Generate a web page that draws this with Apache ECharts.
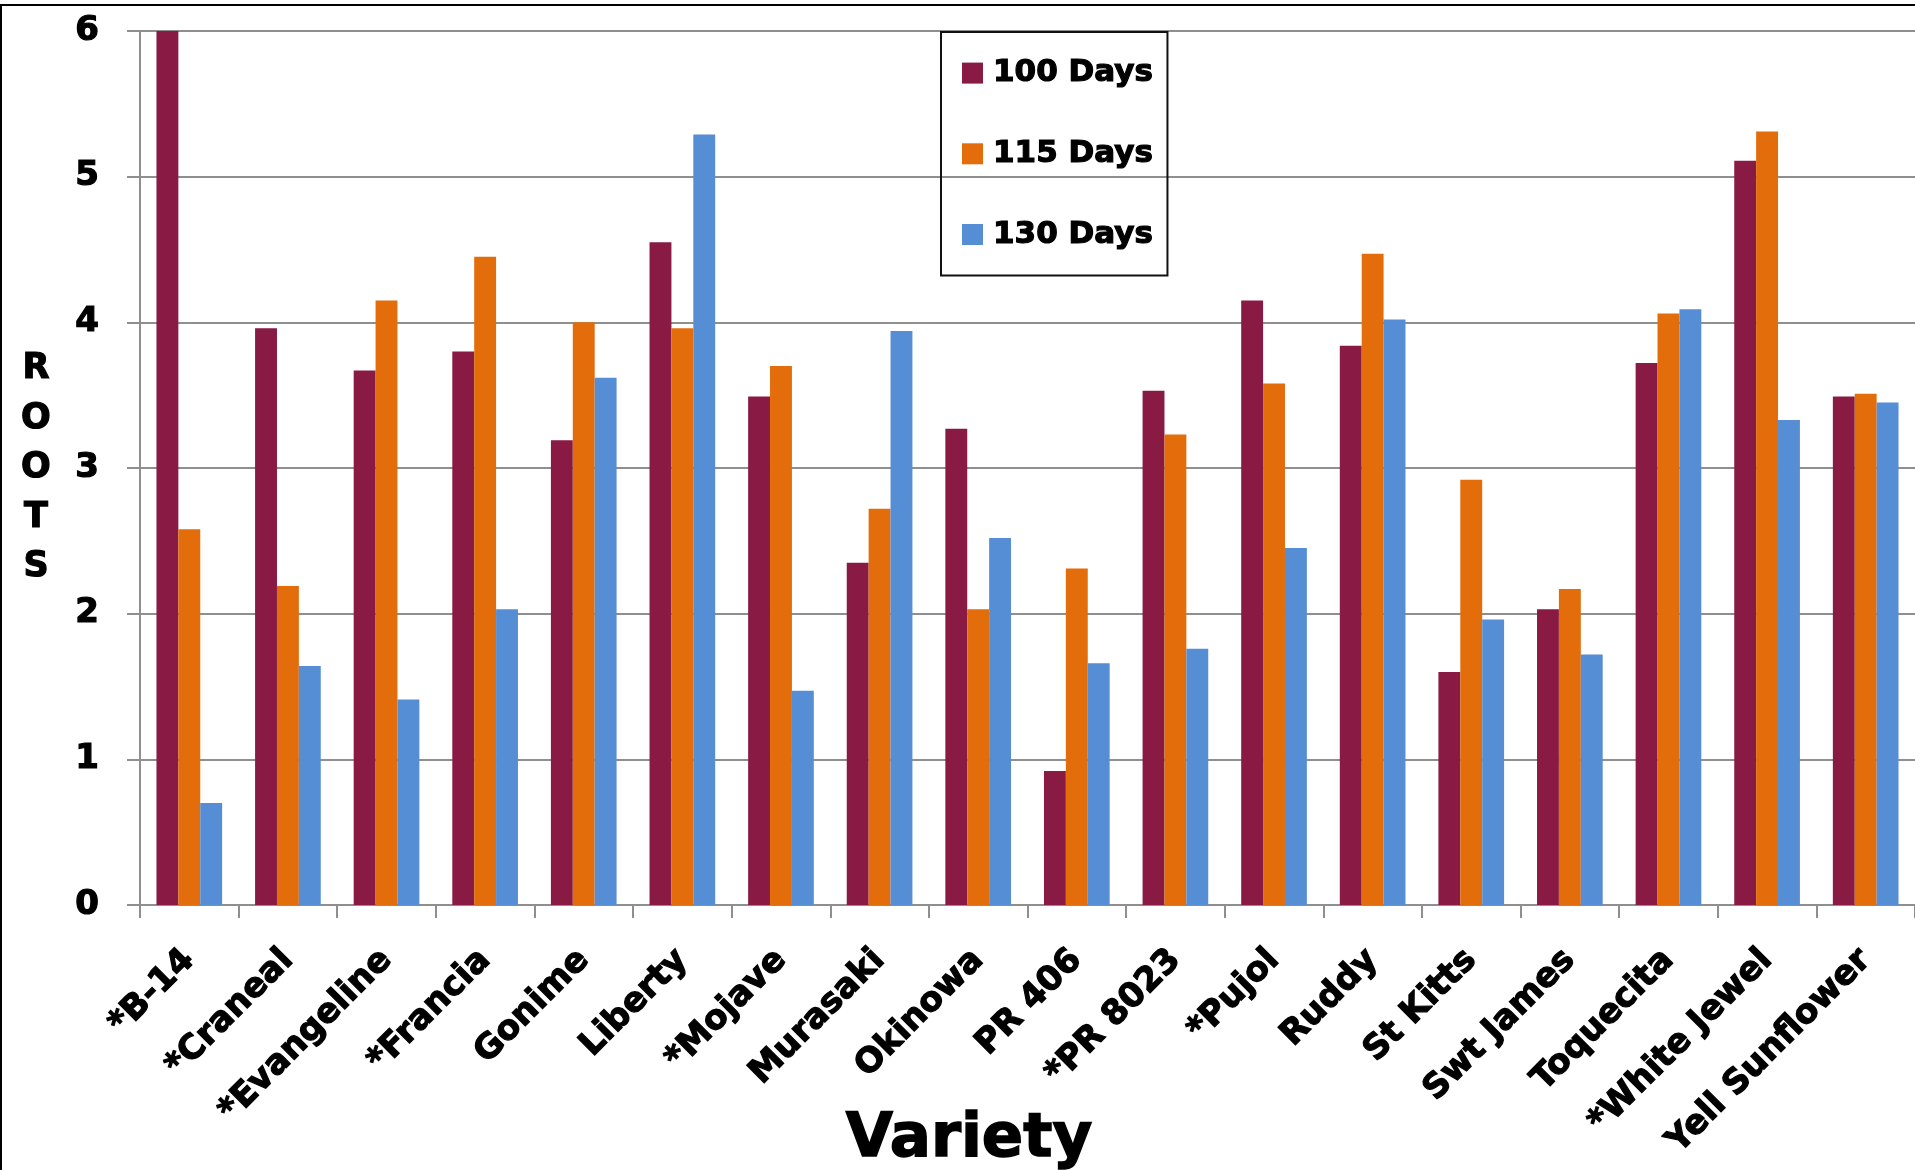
<!DOCTYPE html>
<html>
<head>
<meta charset="utf-8">
<script src="https://cdn.jsdelivr.net/npm/echarts@6/dist/echarts.min.js"></script>
<style>
  html, body { margin: 0; padding: 0; background: #fff; }
  #chart { width: 1915px; height: 1170px; }
</style>
</head>
<body>
<div id="chart"></div>
<script>
// Sweet potato varieties and root counts at three harvest dates
const varieties = ['*B-14', '*Craneal', '*Evangeline', '*Francia', 'Gonime', 'Liberty', '*Mojave',
  'Murasaki', 'Okinowa', 'PR 406', '*PR 8023', '*Pujol', 'Ruddy', 'St Kitts', 'Swt James',
  'Toquecita', '*White Jewel', 'Yell Sunflower'];
const days100 = [6.0, 3.96, 3.67, 3.80, 3.19, 4.55, 3.49, 2.35, 3.27, 0.92, 3.53, 4.15, 3.84, 1.60, 2.03, 3.72, 5.11, 3.49];
const days115 = [2.58, 2.19, 4.15, 4.45, 4.00, 3.96, 3.70, 2.72, 2.03, 2.31, 3.23, 3.58, 4.47, 2.92, 2.17, 4.06, 5.31, 3.51];
const days130 = [0.70, 1.64, 1.41, 2.03, 3.62, 5.29, 1.47, 3.94, 2.52, 1.66, 1.76, 2.45, 4.02, 1.96, 1.72, 4.09, 3.33, 3.45];
const seriesNames = ['100 Days', '115 Days', '130 Days'];
const seriesColors = ['#881A44', '#E36C0B', '#558ED5'];

const FONT = 'DejaVu Sans';
const GRID_GREY = '#8f8f8f';
// thin outline in the text colour gives the heavy, black-weight lettering
const heavy = { textBorderColor: '#000', textBorderWidth: 1.2 };

const chart = echarts.init(document.getElementById('chart'), null, { renderer: 'canvas' });

const mkBar = (name, data, color) => ({
  name, type: 'bar', data,
  barGap: 0, barCategoryGap: '33.4%',
  itemStyle: { color }
});

chart.setOption({
  animation: false,
  backgroundColor: '#fff',
  grid: { left: 140, right: 0, top: 31, bottom: 265, containLabel: false },
  legend: {
    orient: 'vertical',
    left: 941, top: 32,
    padding: [25, 14, 25, 21],
    itemGap: 48.5,
    itemWidth: 21, itemHeight: 21,
    icon: 'rect',
    borderColor: '#111', borderWidth: 2,
    data: seriesNames,
    textStyle: Object.assign({
      fontFamily: FONT, fontWeight: 'bold', fontSize: 31, color: '#000',
      lineHeight: 21, padding: [0, 0, 0, 5]
    }, heavy)
  },
  xAxis: {
    type: 'category',
    data: varieties,
    axisLine: { lineStyle: { color: GRID_GREY, width: 2 } },
    axisTick: { show: true, length: 13, lineStyle: { color: GRID_GREY, width: 2 } },
    axisLabel: Object.assign({
      interval: 0, rotate: 45, margin: 50,
      fontFamily: FONT, fontWeight: 'bold', fontSize: 34, color: '#000'
    }, heavy)
  },
  yAxis: {
    type: 'value',
    min: 0, max: 6, interval: 1,
    name: 'R\nO\nO\nT\nS',
    nameLocation: 'middle', nameRotate: 0, nameGap: 104,
    nameTextStyle: Object.assign({
      fontFamily: FONT, fontWeight: 'bold', fontSize: 35, color: '#000',
      lineHeight: 49.5, align: 'center', verticalAlign: 'middle', padding: [16, 0, 0, 0]
    }, heavy),
    axisLine: { show: true, lineStyle: { color: GRID_GREY, width: 2 } },
    axisTick: { show: true, length: 13, lineStyle: { color: GRID_GREY, width: 2 } },
    splitLine: { show: true, lineStyle: { color: GRID_GREY, width: 2 } },
    axisLabel: Object.assign({
      margin: 41,
      fontFamily: FONT, fontWeight: 'bold', fontSize: 34, color: '#000'
    }, heavy)
  },
  graphic: [
    {
      type: 'rect', silent: true,
      shape: { x: 1, y: 5, width: 1940, height: 1200 },
      style: { fill: 'none', stroke: '#000', lineWidth: 2 }
    },
    {
      type: 'text', silent: true,
      x: 969, y: 1140,
      style: {
        text: 'Variety', fill: '#000', stroke: '#000', lineWidth: 1.5,
        font: 'bold 61px "DejaVu Sans"',
        textAlign: 'center', textVerticalAlign: 'middle'
      }
    }
  ],
  series: [
    mkBar(seriesNames[0], days100, seriesColors[0]),
    mkBar(seriesNames[1], days115, seriesColors[1]),
    mkBar(seriesNames[2], days130, seriesColors[2])
  ]
});
</script>
</body>
</html>
